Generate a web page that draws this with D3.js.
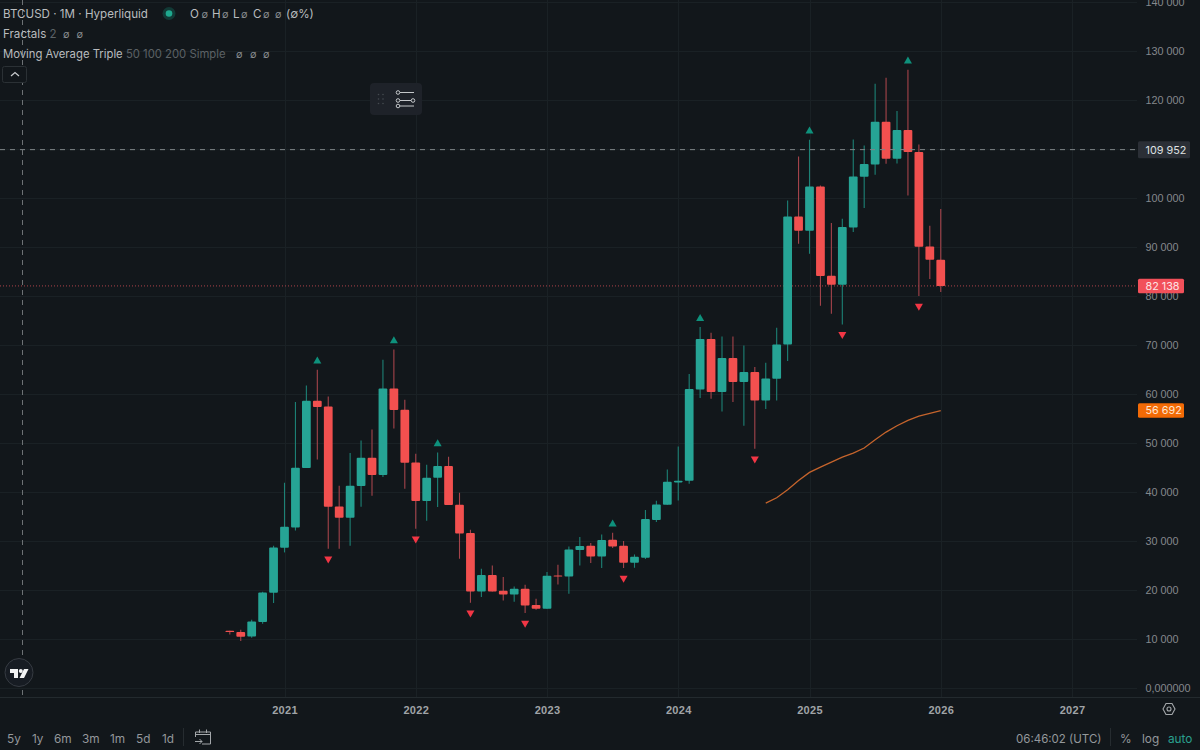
<!DOCTYPE html>
<html>
<head>
<meta charset="utf-8">
<title>BTCUSD 1M</title>
<script src="https://cdn.jsdelivr.net/npm/d3@7"></script>
<style>
  html, body { margin: 0; padding: 0; background: #12171b; overflow: hidden; }
  svg { display: block; font-family: Inter, "Noto Sans", sans-serif; }
  .legend { fill: #b9bcbf; font-size: 11.6px; }
  .tight { font-size: 11.3px; }
  .dim { fill: #5c6266; }
  .nullmark { fill: #8d9194; font-size: 9.5px; }
  .price text { fill: #85898d; font-size: 10.8px; }
  .years text { fill: #a0a4a7; font-size: 11px; font-weight: 600; letter-spacing: .3px; }
  .tool { fill: #94989b; font-size: 11.8px; }
</style>
</head>
<body>
<div id="chart"></div>
<script>
// monthly candles, first one is 2020-08
var firstMonth = "2020-08"
var opens = [11780, 11490, 10610, 13530, 19520, 28700, 32860, 44960, 58710, 57550, 37140, 34830, 41290, 47070, 43540, 61220, 56870, 46120, 38230, 43000, 45370, 37480, 31700, 19790, 23130, 19930, 19180, 20340, 17000, 16250, 23060, 22850, 28230, 29110, 26930, 30340, 29110, 25640, 26660, 34350, 37480, 42040, 42380, 61020, 71290, 60475, 67415, 62515, 64560, 58775, 63200, 70200, 96320, 93400, 102450, 84210, 82380, 94080, 104420, 106940, 115645, 108090, 113945, 109455, 90200, 87480]
var closes = [11490, 10550, 13670, 19590, 28770, 33000, 45030, 58710, 57410, 37070, 34830, 41360, 47070, 43540, 61220, 56800, 46050, 38230, 43000, 45370, 37410, 31630, 19790, 23130, 19790, 19180, 20340, 16930, 16250, 22990, 22850, 28360, 29040, 26930, 30270, 28980, 25640, 26870, 34550, 37550, 42175, 42380, 61090, 71290, 60475, 67415, 62515, 64560, 58775, 63265, 70200, 96320, 93400, 102450, 84150, 82380, 94150, 104490, 107000, 115645, 108090, 113945, 109455, 90130, 87480, 82138]
var highs = [11780, 11980, 14010, 19730, 29110, 41970, 58435, 61840, 65030, 59590, 41360, 48030, 50610, 52860, 67075, 69180, 58910, 47890, 45645, 48160, 47280, 39930, 32400, 24420, 25100, 22720, 20810, 21150, 18300, 23740, 25240, 28980, 30880, 29660, 31430, 31770, 30070, 27340, 36390, 38300, 44690, 49390, 64150, 73740, 72585, 71840, 71840, 70000, 65580, 66470, 73600, 99590, 108570, 111970, 102650, 94960, 95850, 112040, 110810, 123400, 124625, 117820, 126260, 111020, 94420, 97820]
var lows = [11000, 9650, 10340, 13200, 17410, 27750, 32240, 44960, 46730, 28500, 28500, 29110, 37070, 39320, 43130, 53060, 40750, 32580, 34215, 37000, 37410, 26460, 17480, 18630, 19790, 17960, 17680, 15370, 16050, 16250, 21220, 19320, 25100, 25570, 24550, 28640, 24550, 24620, 26390, 33940, 37480, 38360, 41770, 59250, 59110, 56530, 58430, 53600, 48910, 57000, 58775, 66800, 90750, 88700, 78090, 76460, 74280, 93130, 98020, 104830, 107070, 107140, 100610, 80065, 83530, 80880]

// fractal marks, as positions in the candle arrays
var fractalUp = [8, 15, 19, 35, 43, 53, 62]
var fractalDown = [9, 17, 22, 27, 36, 48, 56, 63]

// moving average, the only one of the three with enough bars
var maStart = 49
var maValues = [37820, 38910, 40540, 42450, 44080, 45170, 46190, 47210, 48030, 49050, 50750, 52310, 53600, 54690, 55580, 56120, 56692]

var priceTicks = [0, 10000, 20000, 30000, 40000, 50000, 60000, 70000, 80000, 90000, 100000, 110000, 120000, 130000, 140000]
var yearLabels = ["2021", "2022", "2023", "2024", "2025", "2026", "2027"]
var rangeLabels = ["5y", "1y", "6m", "3m", "1m", "5d", "1d"]
var crossPrice = 109952
var lastPrice = 82138
var maLast = 56692

var width = 1200, height = 750
var paneRight = 1137, paneBottom = 697

var svg = d3.select("#chart").append("svg")
    .attr("width", width)
    .attr("height", height)

svg.append("rect").attr("width", width).attr("height", height).attr("fill", "#12171b")

// months counted from 2021-01
function monthIndex(s) {
  var p = s.split("-")
  return (+p[0] - 2021) * 12 + (+p[1] - 1)
}
var first = monthIndex(firstMonth)

var x = d3.scaleLinear().domain([0, 72]).range([284.5, 1072])
var y = d3.scaleLinear().domain([0, 140000]).range([688.4, 2.4])
var step = x(1) - x(0)
var bodyWidth = step * 0.8

var candles = opens.map(function(o, i) {
  return {i: i + first, open: o, close: closes[i], high: highs[i], low: lows[i]}
})

// ****************** grid ***************************
var grid = svg.append("g").attr("stroke", "#1a2125").attr("stroke-width", 1)
grid.selectAll("line.h").data(priceTicks).enter().append("line")
    .attr("class", "h")
    .attr("x1", 0).attr("x2", paneRight)
    .attr("y1", function(d) { return Math.round(y(d)) + 0.5 })
    .attr("y2", function(d) { return Math.round(y(d)) + 0.5 })
grid.selectAll("line.v").data(yearLabels).enter().append("line")
    .attr("class", "v")
    .attr("x1", function(d) { return Math.round(x(monthIndex(d + "-01"))) + 0.5 })
    .attr("x2", function(d) { return Math.round(x(monthIndex(d + "-01"))) + 0.5 })
    .attr("y1", 0).attr("y2", paneBottom)

svg.append("line").attr("x1", 0).attr("x2", width)
    .attr("y1", paneBottom + 0.5).attr("y2", paneBottom + 0.5)
    .attr("stroke", "#232a2e")

// ****************** price lines ***************************
svg.append("line")
    .attr("x1", 0).attr("x2", paneRight)
    .attr("y1", y(lastPrice)).attr("y2", y(lastPrice))
    .attr("stroke", "#e0525a").attr("stroke-opacity", 0.75)
    .attr("stroke-dasharray", "1 2")

// ****************** candles ***************************
function isUp(d) { return d.close >= d.open }

svg.append("g").selectAll("line").data(candles).enter().append("line")
    .attr("x1", function(d) { return x(d.i) })
    .attr("x2", function(d) { return x(d.i) })
    .attr("y1", function(d) { return y(d.high) })
    .attr("y2", function(d) { return y(d.low) })
    .attr("stroke", function(d) { return isUp(d) ? "#1d8276" : "#a5444b" })
    .attr("stroke-width", 1.1)

svg.append("g").selectAll("rect").data(candles).enter().append("rect")
    .attr("x", function(d) { return x(d.i) - bodyWidth / 2 })
    .attr("y", function(d) { return y(Math.max(d.open, d.close)) })
    .attr("width", bodyWidth)
    .attr("height", function(d) { return Math.max(1, Math.abs(y(d.open) - y(d.close))) })
    .attr("rx", 1)
    .attr("fill", function(d) { return isUp(d) ? "#26a495" : "#f2504f" })

// ****************** fractals ***************************
var triangle = d3.symbol().type(d3.symbolTriangle).size(28)

svg.append("g").selectAll("path").data(fractalUp).enter().append("path")
    .attr("d", triangle)
    .attr("fill", "#0e917c")
    .attr("transform", function(d) {
      return "translate(" + x(candles[d].i) + "," + (y(candles[d].high) - 8.5) + ")"
    })

svg.append("g").selectAll("path").data(fractalDown).enter().append("path")
    .attr("d", triangle)
    .attr("fill", "#f23645")
    .attr("transform", function(d) {
      return "translate(" + x(candles[d].i) + "," + (y(candles[d].low) + 10) + ") rotate(180)"
    })

// ****************** moving average ***************************
var maLine = d3.line()
    .x(function(d, i) { return x(candles[maStart + i].i) })
    .y(function(d) { return y(d) })

svg.append("path").datum(maValues)
    .attr("d", maLine)
    .attr("fill", "none")
    .attr("stroke", "#c5642c")
    .attr("stroke-width", 1.3)

// ****************** crosshair ***************************
svg.append("line")
    .attr("x1", 0).attr("x2", paneRight)
    .attr("y1", y(crossPrice)).attr("y2", y(crossPrice))
    .attr("stroke", "#7f8588").attr("stroke-dasharray", "5 5")
svg.append("line")
    .attr("x1", 22.5).attr("x2", 22.5)
    .attr("y1", 0).attr("y2", paneBottom)
    .attr("stroke", "#6d7275").attr("stroke-dasharray", "5 5")

// ****************** axes ***************************
var locale = d3.formatLocale({decimal: ",", thousands: "\u00a0", grouping: [3], currency: ["", ""]})
var priceFormat = locale.format(",.0f")

// the crosshair tag takes the place of the 110 000 label
var yAxis = d3.axisRight(y)
    .tickValues(priceTicks.filter(function(d) { return d !== 110000 }))
    .tickSize(0)
    .tickPadding(0)
    .tickFormat(function(d) { return d === 0 ? "0,000000" : priceFormat(d) })

svg.append("g").attr("class", "price")
    .attr("transform", "translate(1145.5,0)")
    .call(yAxis)
    .call(function(g) { g.select(".domain").remove() })

var xAxis = d3.axisBottom(x)
    .tickValues(yearLabels.map(function(d) { return monthIndex(d + "-01") }))
    .tickSize(0)
    .tickPadding(0)
    .tickFormat(function(d, i) { return yearLabels[i] })

svg.append("g").attr("class", "years")
    .attr("transform", "translate(0,705)")
    .call(xAxis)
    .call(function(g) { g.select(".domain").remove() })
    .selectAll("text").attr("dy", "0.32em").attr("y", 5)

// labels on the price axis
function priceTag(value, w, h, fill, color) {
  var cy = y(value)
  svg.append("rect")
      .attr("x", 1138).attr("y", cy - h / 2)
      .attr("width", w).attr("height", h)
      .attr("rx", 1.5)
      .attr("fill", fill)
  svg.append("text")
      .attr("x", 1145.5).attr("y", cy)
      .attr("dy", "0.36em")
      .attr("fill", color)
      .attr("font-size", 10.8)
      .text(priceFormat(value))
}
priceTag(crossPrice, 52, 17, "#2b2f36", "#dfe1e3")
priceTag(lastPrice, 46, 14.5, "#f2505a", "#fde3e3")
priceTag(maLast, 46, 14.5, "#f26a06", "#ffe6d2")

// ****************** legend ***************************
function legendText(tx, ty, parts, cls) {
  var t = svg.append("text").attr("class", "legend " + (cls || "")).attr("x", tx).attr("y", ty)
  parts.forEach(function(p) {
    t.append("tspan").attr("class", p[1] ? "dim" : null).text(p[0])
  })
}
function nullMarks(xs, ty) {
  svg.append("g").selectAll("text").data(xs).enter().append("text")
      .attr("class", "nullmark")
      .attr("x", function(d) { return d })
      .attr("y", ty)
      .text("\u2205")
}
legendText(3, 18, [["BTCUSD \u00b7 1M \u00b7 Hyperliquid"]])
legendText(190, 18, [["O"]])
legendText(212, 18, [["H"]])
legendText(233, 18, [["L"]])
legendText(253, 18, [["C"]])
legendText(286, 18, [["(\u2205%)"]])
nullMarks([201.5, 222, 241, 263, 275], 17.5)
legendText(3, 38, [["Fractals "], ["2", true]])
nullMarks([63, 76.5], 37.5)
legendText(3, 58, [["Moving Average Triple "], ["50 100 200 Simple", true]], "tight")
nullMarks([236, 250, 263], 57.5)

svg.append("circle").attr("cx", 169).attr("cy", 13.5).attr("r", 6.5).attr("fill", "#123a36")
svg.append("circle").attr("cx", 169).attr("cy", 13.5).attr("r", 3.3).attr("fill", "#1fa98f")

// collapse button
svg.append("rect").attr("x", 2.5).attr("y", 66.5).attr("width", 24).attr("height", 16).attr("rx", 2)
    .attr("fill", "#12171b").attr("stroke", "#2b3135")
svg.append("path").attr("d", "M11 76 L15 72.5 L19 76")
    .attr("fill", "none").attr("stroke", "#c9ccce").attr("stroke-width", 1.2)

// floating tool widget
var widget = svg.append("g")
widget.append("rect").attr("x", 370).attr("y", 83).attr("width", 52).attr("height", 32).attr("rx", 4).attr("fill", "#1e2229")
widget.selectAll("circle.grip").data([0, 1, 2, 3, 4, 5]).enter().append("circle")
    .attr("class", "grip")
    .attr("cx", function(d) { return 378.5 + (d % 2) * 4.5 })
    .attr("cy", function(d) { return 94.5 + Math.floor(d / 2) * 4.5 })
    .attr("r", 0.8).attr("fill", "#454a50")
var sliders = widget.append("g").attr("fill", "none").attr("stroke", "#c4c7ca").attr("stroke-width", 1)
sliders.append("circle").attr("cx", 398).attr("cy", 92.5).attr("r", 1.8)
sliders.append("path").attr("d", "M400 92.5 H414")
sliders.append("circle").attr("cx", 398).attr("cy", 100.5).attr("r", 1.8)
sliders.append("circle").attr("cx", 413).attr("cy", 100.5).attr("r", 1.8)
sliders.append("path").attr("d", "M400 100.5 H411")
sliders.append("circle").attr("cx", 398).attr("cy", 106).attr("r", 1.8)
sliders.append("path").attr("d", "M400 106 H414")

// logo
svg.append("circle").attr("cx", 19).attr("cy", 672.5).attr("r", 14)
    .attr("fill", "#171c23").attr("stroke", "#363b42")
svg.append("path").attr("fill", "#f2f3f4")
    .attr("d", "M10 669 H18 V678 H14 V673 H10 Z M24 669 H28.5 L24 678 H19.5 Z")
svg.append("circle").attr("cx", 20.8).attr("cy", 671).attr("r", 2).attr("fill", "#f2f3f4")

// ****************** bottom bar ***************************
var rangeOffsets = [7, 32, 54, 82, 110, 136, 162]
svg.append("g").selectAll("text").data(rangeLabels).enter().append("text")
    .attr("class", "tool")
    .attr("x", function(d, i) { return rangeOffsets[i] })
    .attr("y", 742.5)
    .text(function(d) { return d })

svg.append("line").attr("x1", 183.5).attr("x2", 183.5).attr("y1", 728).attr("y2", 746).attr("stroke", "#262c30")

var cal = svg.append("g").attr("fill", "none").attr("stroke", "#a3a7aa").attr("stroke-width", 1)
cal.append("path").attr("d", "M195.5 737 V732 H210.5 V744 H202 M195.5 734.5 H210.5 M199.5 729.5 V733 M206.5 729.5 V733")
cal.append("path").attr("d", "M195 741.5 H202 M199.5 739 L202 741.5 L199.5 744")

svg.append("text").attr("class", "tool").attr("x", 1016).attr("y", 742.5).attr("style", "font-size:11.5px").text("06:46:02 (UTC)")
svg.append("line").attr("x1", 1110.5).attr("x2", 1110.5).attr("y1", 728).attr("y2", 746).attr("stroke", "#262c30")
svg.append("text").attr("class", "tool").attr("x", 1120).attr("y", 742.5).text("%")
svg.append("text").attr("class", "tool").attr("x", 1142).attr("y", 742.5).text("log")
svg.append("text").attr("class", "tool").attr("x", 1168).attr("y", 742.5).attr("style", "fill:#2aa08f").text("auto")

// settings hexagon
svg.append("path").attr("fill", "none").attr("stroke", "#a3a7aa").attr("stroke-width", 1.1)
    .attr("d", "M1163 709 L1166 703.5 H1172 L1175 709 L1172 714.5 H1166 Z")
svg.append("circle").attr("cx", 1169).attr("cy", 709).attr("r", 2)
    .attr("fill", "none").attr("stroke", "#a3a7aa").attr("stroke-width", 1.1)
</script>
</body>
</html>
